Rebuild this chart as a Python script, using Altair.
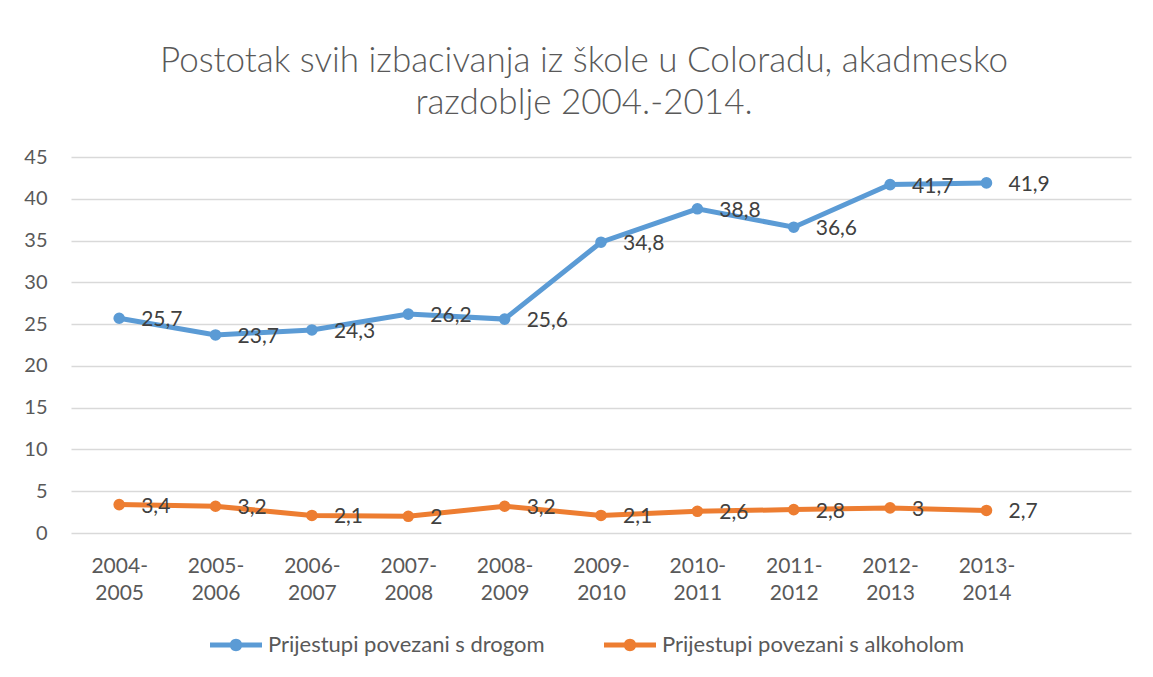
import altair as alt
import pandas as pd

categories = ["2004-2005", "2005-2006", "2006-2007", "2007-2008", "2008-2009",
              "2009-2010", "2010-2011", "2011-2012", "2012-2013", "2013-2014"]
drug = [25.7, 23.7, 24.3, 26.2, 25.6, 34.8, 38.8, 36.6, 41.7, 41.9]
alcohol = [3.4, 3.2, 2.1, 2.0, 3.2, 2.1, 2.6, 2.8, 3.0, 2.7]
series = ["Prijestupi povezani s drogom", "Prijestupi povezani s alkoholom"]
colors = ["#5B9BD5", "#ED7D31"]

rows = []
for name, vals in zip(series, [drug, alcohol]):
    for c, v in zip(categories, vals):
        rows.append({"period": c, "value": v, "series": name,
                     "label": f"{v:g}".replace(".", ",")})
df = pd.DataFrame(rows)

domain_x = categories + [" "]
FONT = "Lato"

x = alt.X("period:O", sort=domain_x,
          scale=alt.Scale(type="point", domain=domain_x, padding=0.5),
          axis=alt.Axis(title=None, labelAngle=0, domain=False, ticks=False, grid=False,
                        labelExpr="[substring(datum.label,0,5), substring(datum.label,5)]",
                        labelFontSize=21, labelColor="#595959", labelFont=FONT,
                        labelLineHeight=27, labelPadding=22))
y = alt.Y("value:Q", scale=alt.Scale(domain=[0, 45], nice=False),
          axis=alt.Axis(title=None, values=list(range(0, 46, 5)), domain=False, ticks=False,
                        gridColor="#D9D9D9", gridWidth=1.4,
                        labelFontSize=20, labelColor="#595959", labelFont=FONT,
                        labelPadding=24))
color_scale = alt.Scale(domain=series, range=colors)

symbol_path = ("M -1 -0.1 H 1 V 0.1 H -1 Z "
               "M -0.24 0 A 0.24 0.24 0 1 1 0.24 0 A 0.24 0.24 0 1 1 -0.24 0 Z")

legend = alt.Legend(title=None, orient="none", direction="horizontal",
                    legendX=139, legendY=462,
                    symbolType=symbol_path, symbolSize=2704,
                    symbolStrokeWidth=0, symbolOpacity=1,
                    symbolFillColor="#5B9BD5",
                    labelFontSize=22, labelColor="#595959",
                    labelFont=FONT, labelOffset=6, labelLimit=0,
                    columnPadding=59, padding=0)
color = alt.Color("series:N", scale=color_scale, sort=series, legend=legend)

base = alt.Chart(df)
lines = base.mark_line(strokeWidth=5).encode(
    x=x, y=y, color=color, detail="series:N")
points = base.mark_point(filled=True, size=135, opacity=1).encode(
    x=x, y=y, color=color)
texts = base.mark_text(align="left", baseline="middle", dx=22, dy=2,
                       fontSize=21, color="#404040", font=FONT).encode(
    x=x, y=y, text="label:N")

chart = alt.layer(lines, points, texts).properties(
    width=1060, height=376,
    title=alt.TitleParams(
        text=["Postotak svih izbacivanja iz škole u Coloradu, akadmesko",
              "razdoblje 2004.-2014."],
        fontSize=35, font=FONT, fontWeight=300, color="#595959",
        lineHeight=42, anchor="middle", dx=-17, offset=26),
    autosize=alt.AutoSizeParams(type="none"),
    padding={"left": 63, "top": 149, "right": 14, "bottom": 140},
).configure_view(stroke=None)

chart.save("out.html", embed_options={"renderer": "svg", "actions": False})
